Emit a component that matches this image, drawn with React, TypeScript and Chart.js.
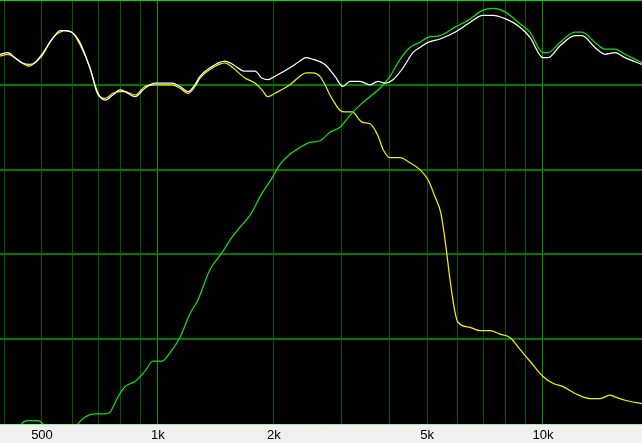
import React, { useEffect, useRef } from 'react';
import { Chart, registerables } from 'chart.js';

Chart.register(...registerables);

// Frequency axis range (Hz)
const X_MIN = 389;
const X_MAX = 18077;

// Vertical grid frequencies and labelled ticks
const gridFreqs = [400, 500, 600, 700, 800, 900, 1000, 2000, 3000, 4000, 5000, 6000, 7000, 8000, 9000, 10000];
const majorFreqs = [1000, 10000];
const labelFreqs = [500, 1000, 2000, 5000, 10000];
const labelTexts = ['500', '1k', '2k', '5k', '10k'];

// Level axis (dB), 5 dB per division
const Y_MIN = 75;
const Y_MAX = 100;
const Y_STEP = 5;

// Summed response (white)
const sumFreq = [389, 408, 425, 443, 465, 479, 500, 524, 540, 557, 573, 598, 627, 666, 699, 729, 764, 797, 821, 872, 925, 982, 1043, 1087, 1141, 1197, 1248, 1286, 1365, 1493, 1566, 1683, 1786, 1863, 1931, 2014, 2202, 2338, 2424, 2527, 2716, 2883, 3024, 3153, 3347, 3553, 3728, 3887, 4079, 4331, 4594, 4791, 5028, 5402, 5909, 6387, 6987, 7417, 7968, 8716, 9253, 10000, 10304, 11072, 12114, 12632, 13653, 14488, 15381, 16331, 18077];
const sumDb = [96.8, 96.9, 96.6, 96.3, 96.2, 96.3, 96.8, 97.5, 97.9, 98.2, 98.2, 98.1, 97.5, 96.0, 94.5, 94.1, 94.4, 94.7, 94.6, 94.3, 94.8, 95.1, 95.1, 95.1, 94.9, 94.6, 95.0, 95.5, 96.0, 96.4, 96.2, 95.8, 95.8, 95.4, 95.3, 95.5, 96.0, 96.4, 96.6, 96.5, 96.2, 95.5, 94.9, 95.2, 95.2, 95.0, 95.2, 95.1, 95.3, 96.0, 96.9, 97.2, 97.5, 97.7, 98.1, 98.6, 99.1, 99.1, 98.9, 98.4, 97.8, 96.6, 96.6, 97.3, 97.9, 97.9, 97.2, 96.8, 96.9, 96.6, 96.2];

// Woofer response (yellow)
const wooferFreq = [389, 408, 425, 443, 465, 479, 500, 524, 540, 557, 573, 598, 627, 666, 699, 729, 764, 797, 821, 872, 925, 982, 1043, 1087, 1141, 1197, 1248, 1286, 1365, 1493, 1566, 1683, 1786, 1863, 1931, 2014, 2202, 2338, 2424, 2527, 2635, 2716, 2798, 2883, 2970, 3060, 3191, 3388, 3553, 3728, 3841, 4006, 4254, 4512, 4791, 5028, 5243, 5434, 5601, 5736, 5909, 6016, 6464, 6863, 7285, 7733, 8208, 8716, 9253, 10000, 10617, 11274, 12114, 13250, 14066, 14928, 15381, 16331, 18077];
const wooferDb = [96.7, 96.8, 96.6, 96.3, 96.1, 96.3, 96.7, 97.5, 97.9, 98.1, 98.2, 98.1, 97.4, 96.0, 94.4, 94.2, 94.5, 94.6, 94.6, 94.4, 94.9, 95.0, 95.0, 95.0, 94.8, 94.5, 94.9, 95.4, 95.9, 96.3, 96.0, 95.4, 95.1, 94.7, 94.3, 94.5, 95.0, 95.5, 95.7, 95.7, 95.5, 95.0, 94.4, 93.9, 93.5, 93.4, 93.4, 92.8, 92.7, 92.0, 91.2, 90.7, 90.7, 90.4, 90.0, 89.4, 88.4, 87.4, 85.4, 83.5, 81.6, 81.0, 80.7, 80.5, 80.5, 80.3, 80.1, 79.4, 78.7, 77.8, 77.4, 77.2, 76.8, 76.5, 76.5, 76.7, 76.6, 76.4, 76.2];

// Tweeter response (green)
const tweeterFreq = [389, 425, 443, 457, 474, 488, 503, 524, 557, 591, 620, 646, 686, 729, 751, 788, 821, 872, 925, 971, 1024, 1075, 1141, 1211, 1270, 1365, 1467, 1556, 1633, 1734, 1863, 1978, 2074, 2202, 2338, 2482, 2635, 2798, 2970, 3153, 3347, 3553, 3773, 4006, 4254, 4512, 4791, 5028, 5402, 5909, 6387, 6987, 7417, 7968, 8716, 9253, 10000, 10304, 11072, 12114, 12632, 13653, 14488, 15381, 16331, 18077];
const tweeterDb = [72.9, 74.1, 75.0, 75.2, 75.2, 75.2, 75.0, 74.4, 73.8, 74.1, 75.0, 75.4, 75.6, 75.6, 75.7, 76.6, 77.2, 77.5, 78.1, 78.7, 78.7, 79.2, 80.1, 81.5, 82.3, 84.1, 85.1, 86.0, 86.6, 87.3, 88.6, 89.5, 90.3, 90.9, 91.3, 91.6, 91.7, 92.2, 92.5, 93.2, 93.8, 94.3, 94.8, 95.5, 96.5, 97.2, 97.5, 97.8, 97.9, 98.4, 98.8, 99.4, 99.5, 99.3, 98.6, 98.1, 96.9, 96.9, 97.5, 98.1, 98.1, 97.5, 97.1, 97.1, 96.8, 96.3];

const toPoints = (f: number[], v: number[]) => f.map((x, i) => ({ x, y: v[i] }));

const bgPlugin = {
  id: 'bgPlugin',
  beforeDraw(chart: any) {
    const { ctx, chartArea } = chart;
    ctx.save();
    ctx.fillStyle = '#f0f0f0';
    ctx.fillRect(0, 0, chart.width, chart.height);
    ctx.fillStyle = '#000000';
    ctx.fillRect(chartArea.left, chartArea.top, chartArea.right - chartArea.left, chartArea.bottom - chartArea.top);
    ctx.restore();
  },
};

export default function App() {
  const ref = useRef<HTMLCanvasElement | null>(null);

  useEffect(() => {
    if (!ref.current) return;
    const chart = new Chart(ref.current, {
      type: 'line',
      data: {
        datasets: [
          {
            label: 'Sum',
            data: toPoints(sumFreq, sumDb),
            borderColor: '#ffffff',
            borderWidth: 1.25,
            pointRadius: 0,
            cubicInterpolationMode: 'monotone',
            clip: 0,
            order: 0,
          },
          {
            label: 'Tweeter',
            data: toPoints(tweeterFreq, tweeterDb),
            borderColor: '#10e010',
            borderWidth: 1.25,
            pointRadius: 0,
            cubicInterpolationMode: 'monotone',
            clip: 0,
            order: 1,
          },
          {
            label: 'Woofer',
            data: toPoints(wooferFreq, wooferDb),
            borderColor: '#f0f000',
            borderWidth: 1.25,
            pointRadius: 0,
            cubicInterpolationMode: 'monotone',
            clip: 0,
            order: 2,
          },
        ],
      },
      options: {
        animation: false,
        responsive: false,
        maintainAspectRatio: false,
        devicePixelRatio: 1,
        layout: { padding: 0 },
        plugins: { legend: { display: false }, tooltip: { enabled: false } },
        scales: {
          x: {
            type: 'logarithmic',
            min: X_MIN,
            max: X_MAX,
            afterBuildTicks: (axis: any) => {
              axis.ticks = gridFreqs.map((v) => ({ value: v }));
            },
            afterFit: (axis: any) => {
              axis.height = 19;
            },
            ticks: {
              autoSkip: false,
              maxRotation: 0,
              minRotation: 0,
              padding: 4,
              color: '#000000',
              font: { family: 'Liberation Sans, Arial, sans-serif', size: 13 },
              callback: (value: any) => {
                const i = labelFreqs.indexOf(Number(value));
                return i >= 0 ? labelTexts[i] : '';
              },
            },
            grid: {
              drawTicks: false,
              lineWidth: 1,
              color: (ctx: any) =>
                ctx.tick && majorFreqs.includes(ctx.tick.value) ? '#009a00' : '#005800',
            },
            border: { display: true, color: '#a0f0a0', width: 1 },
          },
          y: {
            min: Y_MIN,
            max: Y_MAX,
            afterFit: (axis: any) => {
              axis.width = 0;
            },
            ticks: { stepSize: Y_STEP, display: false },
            grid: {
              drawTicks: false,
              lineWidth: 2,
              color: (ctx: any) => {
                const v = ctx.tick ? ctx.tick.value : 0;
                if (v === Y_MAX) return '#00dd00';
                if (v === Y_MIN) return 'rgba(0,0,0,0)';
                return '#007a00';
              },
            },
            border: { display: false },
          },
        },
      },
      plugins: [bgPlugin],
    } as any);
    return () => chart.destroy();
  }, []);

  return (
    <div style={{ position: 'fixed', left: 0, top: 0, width: 642, height: 443 }}>
      <canvas ref={ref} width={642} height={443} style={{ display: 'block', width: 642, height: 443 }} />
    </div>
  );
}
